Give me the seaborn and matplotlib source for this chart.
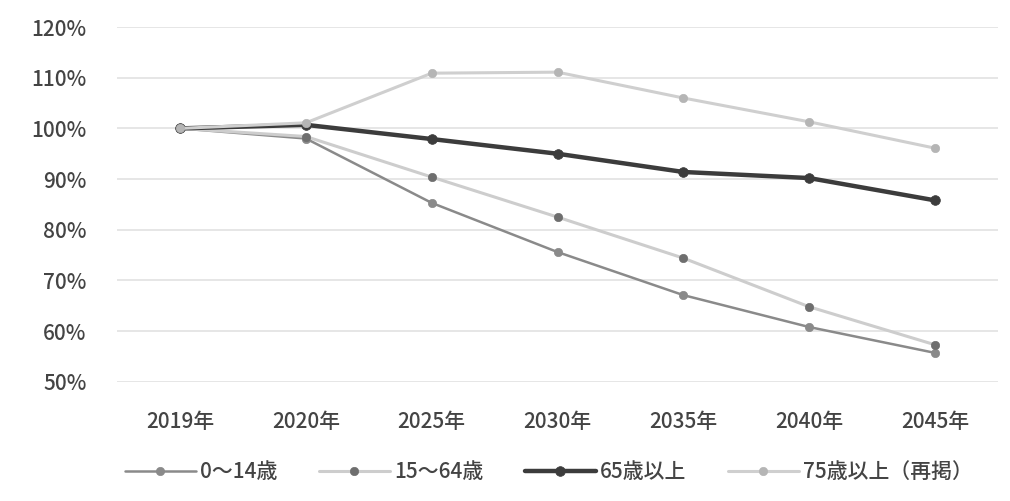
import numpy as np
import pandas as pd
import matplotlib
matplotlib.use('Agg')
import matplotlib.pyplot as plt
import seaborn as sns
from matplotlib.ticker import PercentFormatter

# Data (index, 2019 = 100%)
years = ['2019年', '2020年', '2025年', '2030年', '2035年', '2040年', '2045年']
age_0_14 = [100.0, 98.0, 85.3, 75.6, 67.1, 60.8, 55.7]
age_15_64 = [100.0, 98.4, 90.4, 82.5, 74.4, 64.8, 57.3]
age_65_over = [100.0, 100.7, 97.9, 95.0, 91.4, 90.2, 85.8]
age_75_over = [100.0, 101.1, 110.9, 111.1, 106.0, 101.3, 96.1]

series_names = ['0～14歳', '15～64歳', '65歳以上', '75歳以上（再掲）']
series_values = [age_0_14, age_15_64, age_65_over, age_75_over]

sns.set_theme(style='white')
plt.rcParams['font.family'] = ['Noto Sans CJK JP', 'DejaVu Sans']

df = pd.DataFrame({
    'year': years * len(series_names),
    'pos': list(range(len(years))) * len(series_names),
    'value': np.concatenate(series_values),
    'series': np.repeat(series_names, len(years)),
})

styles = {
    '0～14歳': dict(color='#8a8a8a', lw=1.8, mfc='#8a8a8a', mec='#8a8a8a', ms=6),
    '15～64歳': dict(color='#cdcdcd', lw=2.2, mfc='#6e6e6e', mec='#6e6e6e', ms=6),
    '65歳以上': dict(color='#3c3c3c', lw=3.2, mfc='#3c3c3c', mec='#3c3c3c', ms=7),
    '75歳以上（再掲）': dict(color='#cfcfcf', lw=2.2, mfc='#b5b5b5', mec='#b5b5b5', ms=6),
}

fig, ax = plt.subplots(figsize=(10.1, 5.01), dpi=100)
fig.patch.set_facecolor('white')
ax.set_facecolor('white')

for name in series_names:
    st = styles[name]
    sub = df[df['series'] == name]
    sns.lineplot(data=sub, x='pos', y='value', ax=ax, sort=False, label=name,
                 color=st['color'], linewidth=st['lw'], marker='o',
                 markersize=st['ms'], markerfacecolor=st['mfc'],
                 markeredgecolor=st['mec'], markeredgewidth=0.5)

ax.set_xlim(-0.5, len(years) - 0.5)
ax.set_ylim(50, 120)
ax.set_yticks(np.arange(50, 121, 10))
ax.yaxis.set_major_formatter(PercentFormatter(decimals=0))
ax.set_xticks(range(len(years)))
ax.set_xticklabels(years)
ax.set_xlabel('')
ax.set_ylabel('')

ax.grid(axis='y', color='#e2e2e2', linewidth=1.2)
for s in ax.spines.values():
    s.set_visible(False)
ax.tick_params(axis='both', length=0, labelsize=15, colors='#444444')
ax.tick_params(axis='x', pad=21)
ax.tick_params(axis='y', pad=22)
for lbl in ax.get_xticklabels() + ax.get_yticklabels():
    lbl.set_fontweight('medium')

leg = ax.legend(loc='upper center', bbox_to_anchor=(0.49, -0.17), ncol=4,
                frameon=False, handlelength=3.4,
                columnspacing=2.0, handletextpad=0.2,
                prop={'size': 15, 'weight': 'medium'})
for t in leg.get_texts():
    t.set_color('#444444')

fig.subplots_adjust(left=0.116, right=0.988, top=0.946, bottom=0.238)
fig.savefig('out.png', dpi=100, facecolor='white')
